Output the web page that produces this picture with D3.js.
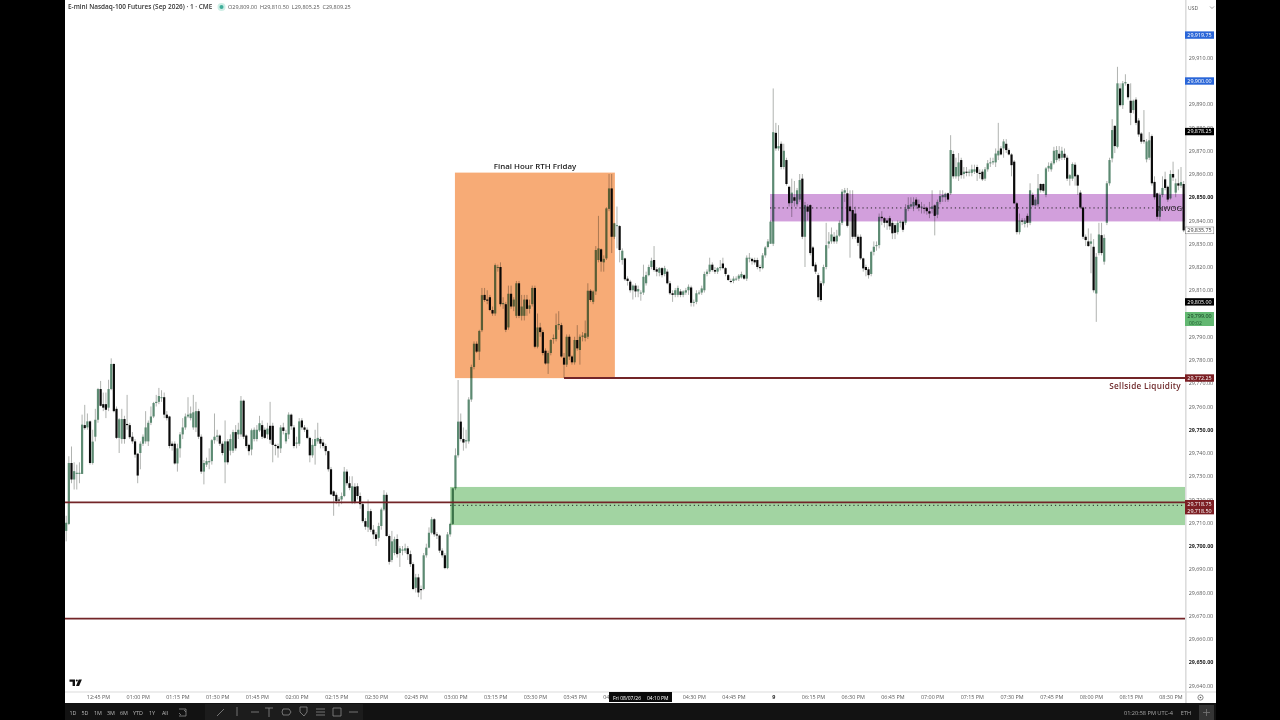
<!DOCTYPE html>
<html>
<head>
<meta charset="utf-8">
<style>
html,body{margin:0;padding:0;background:#000;overflow:hidden}
svg{display:block;isolation:isolate}
text{font-family:"Open Sans","Liberation Sans",sans-serif}
.axis text{font-size:5.4px;fill:#5a5a5a}
.axis .major text{font-weight:700;fill:#222}
</style>
<script src="https://cdn.jsdelivr.net/npm/d3@7"></script>
</head>
<body>
<div id="chart"></div>
<script>
// Prices are written as points above this base, one bar per minute
const priceBase = 29700;
const opens = [
6.5,9.5,35.7,28.6,31,31,31,52,51,53.6,
35.7,47,54.3,67.5,61,61,59.5,67.5,78.3,59,
46.5,46,54.6,52.5,52,47,45,39.7,40,44,
45,45,53,55.7,61.5,62,64,64,56.5,55.7,
44,44,35.5,42,48,51,55.7,55,51,51,
58,47,32,35,36,36.5,45.5,47,47.5,44,
36,45,41,41,49,48,48,62.5,47.5,43.5,
41.5,46,46,49.7,52,50,48,51.7,51.7,43.5,
43,42,51,45,48,56.5,51,44,44,54,
51,50,46.5,39,43,45,46,44.5,43,40.8,
33,23.5,22,20,20,21.5,32,27,19,25.5,
25.7,21.5,18,10.7,8,15,7,5,3.5,8.6,
15.7,22,4.3,-6,-3,3,-3,-2,-2,-1,
-3.5,-7.8,-18,-13.5,-18.5,-18.5,-4,-0.7,5.7,11.5,
5,4.5,-2,-4,-9.5,5,9.5,24.8,39,53.5,
46,45,45,63,77,87,83.6,92.8,108,106,
107,101.5,100,120,120,104,104,94,108.5,103,
99,113,99,99,106,102,104,111,85.7,94,
92,84,78.5,83,89,89,95,95,81,78,
90,81.5,79,88.6,84.3,90,89.5,90,109.8,105,
109.5,123,127.6,122,123.7,145,153.8,133,138,137.6,
123,123.7,115,113.7,110,112,109.5,109,109,113,
116.5,120,123,119,117.5,119.5,117,118,113,108.7,
108,108,109.5,108,109,110,111.2,105,105,109,
109,110,117,118,121,118.7,118,119.5,121.5,119.5,
116.5,114,114,115,115,115.5,116.5,115,124,123.5,
123,123,120,119.5,125,128.6,130,130,177.7,171,
173,163,166,154.5,147.5,150,147,149,158,133,
146,146.6,128.4,121,116.5,113,113,120,130,131,
133,131,133.5,139,152,151.7,146,144.5,143,133,
133,123.7,120,119,117,126.5,129,129.4,141.6,141,
140,141,139,138,135,139,139.5,139,145,146,
146,149,147,146,145.5,145.5,144,145,146.5,142.5,
148,150,150,151.7,151.7,168.6,159,159,166,160,
161,160.5,160.5,161,163,160.5,161,158,162,164.8,
165,165,168,171,171,173,170.3,168.4,165.3,147.4,
135,140,138.5,142,139,151,146.5,147,155.7,155.7,
151,162.4,162,164.6,166,168.7,167,168.7,167,158,
158,164,159.5,152,145.6,133,131,130,128.7,108.6,
126,133.7,122.3,139,156,166.7,180.7,171.7,196.8,189.6,
199,198.7,191.5,187.5,192,183,177.4,174.5,166.3,167,
176.3,156.6,151.7,141.6,151,157.7,154.5,149.5,160,152,
156,155,155.7];
const highs = [
13,38.6,42.8,36,35,36,56.5,60.7,57,54,
50,59,68,71,66,66,71.5,80.7,78.5,60,
55,59,56,65,53,49,46,40,45,48,
58,54,60,62,65,68,67,66,58,56,
45,45,44,49,55,57,64,60,65,62,
59,48,37,38,42,46,57,50,48,45,
54,46,48,50,52,53,64.5,63,48,44,
50.5,51,52,56,54,51,53,62,53,44,
44,52,53,50,57.5,57,52,47,55,55,
52,51,47,46,50,53,47,46,44,41,
34,24,23,21,23,34,33,30,30,27,
27,23,19,12,20,16,9,6,10,16.5,
24,23,5,6.5,4,5,0,0,1,0,
-2,-7,-12,-12,-17,-3,1,8,12.5,12,
6,5,-1,-3,6,10,25,42,71.4,57,
51,50,64,78,88,88,93,111,111,110,
108,103,121.5,121,122,107,105,112,112,107,
114,114,108,108,108,106,112,112,100,96,
93,85,84,89,91,100,101,96,83,91,
91,82,90,95,91,92,97,113,110.5,110,
129,142,128,125,145.7,160,160,139,146,138,
128,124,116,114.5,112.5,113,112,110,121,118,
121,124,129,120,120,120,120.5,119,114,110,
111,112,110.5,110,111,112.5,112,106,110,110,
112,118,119,124,122,120,120,123,124,120,
117,115,116,116,117,118,117,125,126,124,
124,124,121,126,129,132,140,196.8,182,181,
174,173,167,155,158,157,154,160,160,148,
147,147,129,122,117.5,114,121,139,135,137,
135,136,140,153.5,154,154,153,153,146,134,
134,124,121,120,127,131,131,143,144,141.5,
141,142,140,139,140,140,140,147,150,150,
150,150,149,148,147,146,148,153,147,149,
153,153,152,152,176.7,170,167,169,167,163,
163,162,164,164,164,162,162,163,166,167,
167,171,182,172,175,175,171,169,166,148,
143,141,141,143,156,152,150,160,156,156,
163,165,165.5,171.7,172,172,171.7,171,168,160,
165,165,160,153,146,134,136.6,134.4,132,126,
139,139,134,157,167,183.6,181,206.1,199,200,
202.9,199,199,192,193,184,178,187.5,175,178,
177,159,152,152,159,161,155,161.6,165.3,158,
162,163,157];
const lows = [
2,9,27,24.3,24.3,27,31,50,50,35,
35,45,53,60,58,55,58,67,57.5,46,
40,44,44,50,46,44,38,27,33,43,
44,43,52,55,60,61,62,55,54,42,
41,35,32,38,46,50,55,54,50,49,
46,31,26.5,34,33,35,44,45,43,39,
27,35,39,40,41,46,47,46,42,39,
39,45,45,49,46,46,46,44,36,39,
38,40,48,44,46,50,42,42,43,50,
49,46,36,38,35,44,42,42,39,32,
22,13,18,17,18,21,26,24,18,18,
20,16,10,7,6,6,3,0,2,7,
15,4,-8,-7,-4,-5,-9,-4,-3,-6,
-9,-19,-20,-22,-23,-19,-5,-1,5,4,
3,-3,-5,-10,-10,4,9,24,38,45,
41,42,44,62,76,83,80,92,105,104,
101,99,99,118,103,102,92,93,102,101,
98,98,97,97,99,100,103,85,85,90,
82,78,74,82,87,88,93,81,72.25,77,
80,78,78,84,78,88,88,89,105,104,
108,122,118,118,123,144,126,132,128,122,
121,114,112,109,106,107,107,105.5,108,112,
116,119,118,116,116,115.5,116,112.5,108,105,
107,107,107,107,108,108,103,103,104,108,
108,109,116,117,118,117,117,118.5,119,116,
114,113,113,114,114,115,114.5,114,122,121,
121,119,118,119,124,128,130,129,170,170,
162,162,155,146,141.5,146,146,148,132,120,
140,125,120,117,105.5,105,112,119,128,130,
130,130,133,138,148,137,124,132,132,129,
123,118,116,115,116,125,127,128,138,137,
136,136,132,132,134,137,135,138,144,145,
144,145,144,143,143,142.5,141,143,133.6,141,
147,148,148,148,151,158,158,157,158,158,
159,159,159,160,157,158,157,157,161,163,
164,163,166,168,167,169,168,159,147,134,
134,138,137,137,138,146,146,146,152,152,
150,161,161,164,165,165.5,166,166,157,155,
157,155,151,145,132,129,128.7,117.3,109,96.4,
125,125,121,138,155,165,169,171,189,188,
198,192,181,186,181,176,173,173,165,166,
155,149,140.5,140,150,153,148,149,157,150,
153,154,135];
const closes = [
10,35.7,28.6,32.2,31.5,31.5,52.2,50.7,53.6,35.7,
44.9,54.3,67.5,60.3,59.5,58.6,67.5,78.3,58,46.5,
54.5,54.6,46,52,46.8,45,39.3,30.3,44,47,
51,53,55.7,61.5,62,64.5,64,56.5,55,43,
43,35.5,42,48,51,55.7,56.5,57,57.5,58,
47,32,35.7,36.5,36.5,45.5,47,47.5,44,40,
45,36,46,49,42,50,62.5,47,43,40.8,
49.8,50,50,52.8,47,46.5,50.5,45.7,43.5,43,
42,51,49.5,48.6,56.5,51.5,43,44.5,53.6,51,
50,46.5,39,43.5,46,46.5,44,43,40.8,33,
22.2,21.5,19.3,19.5,21.5,32,27,25,25.7,19,
21.5,18,10.7,8.3,15,7,5,3,8.6,15.7,
22,4.3,-6.8,2,2.9,-3.5,-1,-1.5,-1,-3.5,
-7.8,-18.5,-13.5,-20,-19,-4,-0.7,5.7,11.5,5,
4.5,-2,-4,-9.5,5,9.5,24.8,39,53.5,46,
44.5,45.5,63,77,87,83.6,92.5,107.9,105.8,105.5,
101.5,100,120.8,120,104,104.5,93,108.5,103,106,
113,99,103,106,102,103.5,111,85.7,94,92,
83,78.5,83,88.6,89.5,95,95.5,81.5,78,90,
81.5,79,88.6,85,90,90.5,91.5,109.8,105.8,109.5,
127.3,128,122.3,123.5,145.2,153.8,133,138.8,138,127.3,
127,114.7,114,110,112,109.5,110.5,109,115.8,116.5,
120,122.7,118.7,118,119.5,116.5,119.5,113,108.7,108,
110,111,108,109.5,110,111.5,104.6,105,108.7,109,
110.8,117,118,121,118.7,118,119.5,120,119.5,117,
114.4,113.7,115,115,116.3,117,115,124,124,122.5,
122,120,119.5,125,128.4,131,139.5,178,171,172,
163,170,155.7,147.4,152,148.5,153,157.4,133,146.6,
143.8,126,120.4,118,107,105.8,120,129.4,131,134,
131,133.5,139,152.4,153,137.7,144,133,133,130.4,
123.7,119.4,118.7,116.5,126.5,128.7,129.4,141.6,141,139,
139,137.5,134.5,134.7,139,139.5,136,145,146.6,147,
148,146.5,145.5,146,145,144,143,146,142,148,
150.5,151,151.5,149,170.3,159,163,165,159.5,161,
160.5,161,162,162,160.5,160,157.7,162,164.6,165,
165.5,168.8,170,168.4,174,170.3,168.4,163.8,147.4,135,
140,139.5,140,139,153,146.6,149,153.8,153,152.8,
162.4,163.5,164.6,170,170.3,166.7,170,167,158,159.5,
164.3,159,155,145.6,133,131.6,129,131,110,124.4,
134,126,132.5,156,166,178.9,172,199,189.6,199,
199.5,193,186.3,191.5,182,177,173.9,174,174,174.5,
156,150,141.6,151,154,154,149,160,158.5,156,
155,156.5,135.75];

const priceTicks = [29640,29650,29660,29670,29680,29690,29700,29710,29720,29730,29740,29750,29760,29770,29780,29790,29800,29810,29820,29830,29840,29850,29860,29870,29880,29890,29900,29910];
const majorTicks = [29650,29700,29750,29850];
const timeLabels = ["12:45 PM","01:00 PM","01:15 PM","01:30 PM","01:45 PM","02:00 PM","02:15 PM","02:30 PM","02:45 PM","03:00 PM","03:15 PM","03:30 PM","03:45 PM","04:00 PM","04:15 PM","04:30 PM","04:45 PM","9","06:15 PM","06:30 PM","06:45 PM","07:00 PM","07:15 PM","07:30 PM","07:45 PM","08:00 PM","08:15 PM","08:30 PM"];
const hiddenTimes = ["04:15 PM"];
const rangeLabels = ["1D","5D","1M","3M","6M","YTD","1Y","All"];

// zones: [first bar, last bar or null, top price, bottom price, colour]
const zoneBars = [[146.8,207.2],[265.8,null],[145,null]];
const zonePrices = [[29860.6,29772.2],[29851.4,29839.6],[29725.4,29709]];
const zoneColors = ["#f7ab76","#d29fdc","#a2d4a2"];
const dottedLevels = [[265.8,29845.4],[145,29717.5]];
const levelLines = [[188,29772.25],[0,29718.75],[0,29668.75]];
const priceTags = [
 ["29,919.75",29919.75,"#2a66d8","#fff"],
 ["29,900.00",29900,"#2a66d8","#fff"],
 ["29,878.25",29878.25,"#000","#fff"],
 ["29,805.00",29805,"#000","#fff"],
 ["29,772.25",29772.25,"#7c1f24","#fff"],
 ["29,718.75",29718.2,"#7c1f24","#fff"],
 ["29,718.50",29715.2,"#7c1f24","#fff"]
];
const ohlcText = "O29,809.00  H29,810.50  L29,805.25  C29,809.25";

const W=1280,H=720;
const svg=d3.select("#chart").append("svg").attr("width",W).attr("height",H);
const L=65,R=1185,AX=1216,T=0,B=691.5,TB=703;
svg.append("rect").attr("width",W).attr("height",H).attr("fill","#000");
svg.append("rect").attr("x",L).attr("y",T).attr("width",AX-L).attr("height",TB-T).attr("fill","#fff");
svg.append("rect").attr("x",L).attr("y",TB).attr("width",AX-L).attr("height",H-TB).attr("fill","#121212");

const y=d3.scaleLinear().domain([29700,29910]).range([546,57.75]);
const x=d3.scaleLinear().domain([0,422]).range([66.2,66.2+2.648*422]);
const bars=d3.range(closes.length).map(i=>({i,o:priceBase+opens[i],h:priceBase+highs[i],l:priceBase+lows[i],c:priceBase+closes[i]}));

// candles
const cg=svg.append("g").attr("style","filter:blur(0.4px)");
cg.selectAll("line").data(bars).join("line")
 .attr("x1",d=>x(d.i)).attr("x2",d=>x(d.i)).attr("y1",d=>y(d.h)).attr("y2",d=>y(d.l))
 .attr("stroke","#b0b3b0").attr("stroke-width",1);
cg.selectAll("rect").data(bars).join("rect")
 .attr("x",d=>x(d.i)-1.1).attr("width",2.2)
 .attr("y",d=>y(Math.max(d.o,d.c)))
 .attr("height",d=>Math.max(1,Math.abs(y(d.o)-y(d.c))))
 .attr("fill",d=>d.c>=d.o?"#5c8a72":"#0a0a0a");

// zones laid over the candles, candles show through
zoneBars.forEach((b,k)=>{
 const x0=x(b[0]),x1=b[1]===null?R:x(b[1]);
 svg.append("rect").attr("x",x0).attr("width",x1-x0)
  .attr("y",y(zonePrices[k][0])).attr("height",y(zonePrices[k][1])-y(zonePrices[k][0]))
  .attr("fill",zoneColors[k]).style("mix-blend-mode","multiply");
});
dottedLevels.forEach(d=>{
 svg.append("line").attr("x1",x(d[0])).attr("x2",R).attr("y1",y(d[1])).attr("y2",y(d[1]))
  .attr("stroke","#222").attr("stroke-width",1).attr("stroke-dasharray","1.2 3");
});
levelLines.forEach(d=>{
 svg.append("line").attr("x1",d[0]===0?L:x(d[0])).attr("x2",R).attr("y1",y(d[1])).attr("y2",y(d[1]))
  .attr("stroke","#732528").attr("stroke-width",1.8);
});

// annotations
svg.append("text").attr("x",535).attr("y",169).attr("text-anchor","middle").attr("font-size",7.9).attr("font-weight",600).attr("fill","#222").text("Final Hour RTH Friday");
svg.append("text").attr("x",1181).attr("y",389).attr("text-anchor","end").attr("font-size",8.2).attr("font-weight",600).attr("letter-spacing",0.3).attr("fill","#6f2a2c").text("Sellside Liquidity");
svg.append("text").attr("x",1182).attr("y",211).attr("text-anchor","end").attr("font-size",7.6).attr("font-weight",500).attr("fill","#111").text("NWOG");

// header
svg.append("text").attr("x",68).attr("y",9.3).attr("font-size",6.45).attr("font-weight",600).attr("fill","#333").text("E-mini Nasdaq-100 Futures (Sep 2026) · 1 · CME");
svg.append("circle").attr("cx",221.5).attr("cy",7).attr("r",4).attr("fill","#cfeee6");
svg.append("circle").attr("cx",221.5).attr("cy",7).attr("r",2).attr("fill","#3fae9a");
svg.append("text").attr("x",228).attr("y",9).attr("font-size",5.5).attr("fill","#555").attr("xml:space","preserve").text(ohlcText);

// price axis
svg.append("rect").attr("x",R).attr("y",T).attr("width",1.6).attr("height",TB-T).attr("fill","#dcdcdc");
const ya=svg.append("g").attr("class","axis").attr("transform",`translate(${R+3.7},0)`)
 .call(d3.axisRight(y).tickValues(priceTicks).tickSize(0).tickPadding(0).tickFormat(d3.format(",.2f")));
ya.select(".domain").remove();
ya.selectAll(".tick").classed("major",d=>majorTicks.includes(d));
svg.append("text").attr("x",1188).attr("y",9.5).attr("font-size",5).attr("fill","#555").text("USD");
svg.append("path").attr("d","M1210 6.5l2 2l2-2").attr("fill","none").attr("stroke","#666").attr("stroke-width",.6);

// time axis
svg.append("rect").attr("x",L).attr("y",B).attr("width",AX-L).attr("height",1).attr("fill","#dcdcdc");
const ta=svg.append("g").attr("class","axis").attr("transform",`translate(0,${B+1})`)
 .call(d3.axisBottom(x).tickValues(timeLabels.map((_,k)=>12+15*k)).tickSize(0).tickPadding(3)
 .tickFormat((_,k)=>timeLabels[k]));
ta.select(".domain").remove();
ta.selectAll(".tick").filter((_,k)=>timeLabels[k]==="9").classed("major",true);
ta.selectAll(".tick").filter((_,k)=>hiddenTimes.includes(timeLabels[k])).remove();
svg.append("rect").attr("x",R).attr("y",B).attr("width",1.6).attr("height",TB-B).attr("fill","#dcdcdc");
svg.append("circle").attr("cx",1200.5).attr("cy",697.5).attr("r",2.6).attr("fill","none").attr("stroke","#555").attr("stroke-width",.7);
svg.append("circle").attr("cx",1200.5).attr("cy",697.5).attr("r",.8).attr("fill","#555");

// crosshair time tag
svg.append("rect").attr("x",609).attr("y",692).attr("width",63).attr("height",10).attr("fill","#0a0a0a");
svg.append("text").attr("x",613).attr("y",699.5).attr("font-size",5).attr("fill","#fff").text("Fri 08/07/26");
svg.append("text").attr("x",647).attr("y",699.5).attr("font-size",5).attr("fill","#fff").text("04:10 PM");

// price tags
function tag(txt,py,bg,fg,h){
 svg.append("rect").attr("x",R).attr("y",py-h/2).attr("width",29).attr("height",h).attr("fill",bg);
 svg.append("text").attr("x",R+14.5).attr("y",py+1.9).attr("text-anchor","middle").attr("font-size",5.4).attr("fill",fg).text(txt);
}
priceTags.forEach(t=>tag(t[0],y(t[1]),t[2],t[3],7.4));
svg.append("rect").attr("x",R+.4).attr("y",y(29835.75)-3.4).attr("width",28.4).attr("height",6.8).attr("fill","#fff").attr("stroke","#777").attr("stroke-width",.5);
svg.append("text").attr("x",R+14.5).attr("y",y(29835.75)+1.9).attr("text-anchor","middle").attr("font-size",5.4).attr("fill","#333").text("29,835.75");
svg.append("rect").attr("x",R).attr("y",312).attr("width",29).attr("height",14).attr("fill","#63b872");
svg.append("text").attr("x",R+14.5).attr("y",318).attr("text-anchor","middle").attr("font-size",5.4).attr("fill","#10351c").text("29,799.00");
svg.append("text").attr("x",R+4).attr("y",324.5).attr("font-size",5).attr("fill","#1c5a2e").text("00:02");

// TradingView mark
svg.append("path").attr("d","M69.5 679.5h5.5v6.5h-2.4v-4.2h-3.1zM76 686l2.7-6.5h3.2l-2.8 6.5z").attr("fill","#111");
svg.append("circle").attr("cx",76.8).attr("cy",680.6).attr("r",1).attr("fill","#111");

// bottom toolbar
const rangeX=[73,85,98,111,124,138,152,165];
rangeLabels.forEach((r,k)=>svg.append("text").attr("x",rangeX[k]).attr("y",714.5).attr("text-anchor","middle").attr("font-size",5.4).attr("fill","#b9b9b9").text(r));
svg.append("rect").attr("x",205).attr("y",704).attr("width",158).attr("height",16).attr("fill","#1c1c1c");
const ic=svg.append("g").attr("fill","none").attr("stroke","#8a8a8a").attr("stroke-width",.8);
ic.append("path").attr("d","M179 709h7v7h-7M186 712l-2-2M179 713l2 2");
ic.append("path").attr("d","M217 716l7-7M237 707v9M251 712h8M265 708h8M269 708v9M283 709h6l2 3l-2 3h-6l-1-3zM300 707h7v5l-3 4l-4-4zM316 709h9M316 712h9M316 715h9M333 708h8v8h-8zM349 712h9");
const tb=svg.append("g");
tb.append("text").attr("x",1148.5).attr("y",714.5).attr("text-anchor","middle").attr("font-size",5.6).attr("fill","#a8a8a8").text("01:20:58 PM UTC-4");
tb.append("text").attr("x",1186).attr("y",714.5).attr("text-anchor","middle").attr("font-size",5.6).attr("fill","#a8a8a8").text("ETH");
svg.append("rect").attr("x",1199).attr("y",705).attr("width",15).attr("height",15).attr("fill","#343434");
svg.append("path").attr("d","M1203 712.5h7M1206.5 709v7").attr("stroke","#777").attr("stroke-width",.8);
</script>
</body>
</html>
